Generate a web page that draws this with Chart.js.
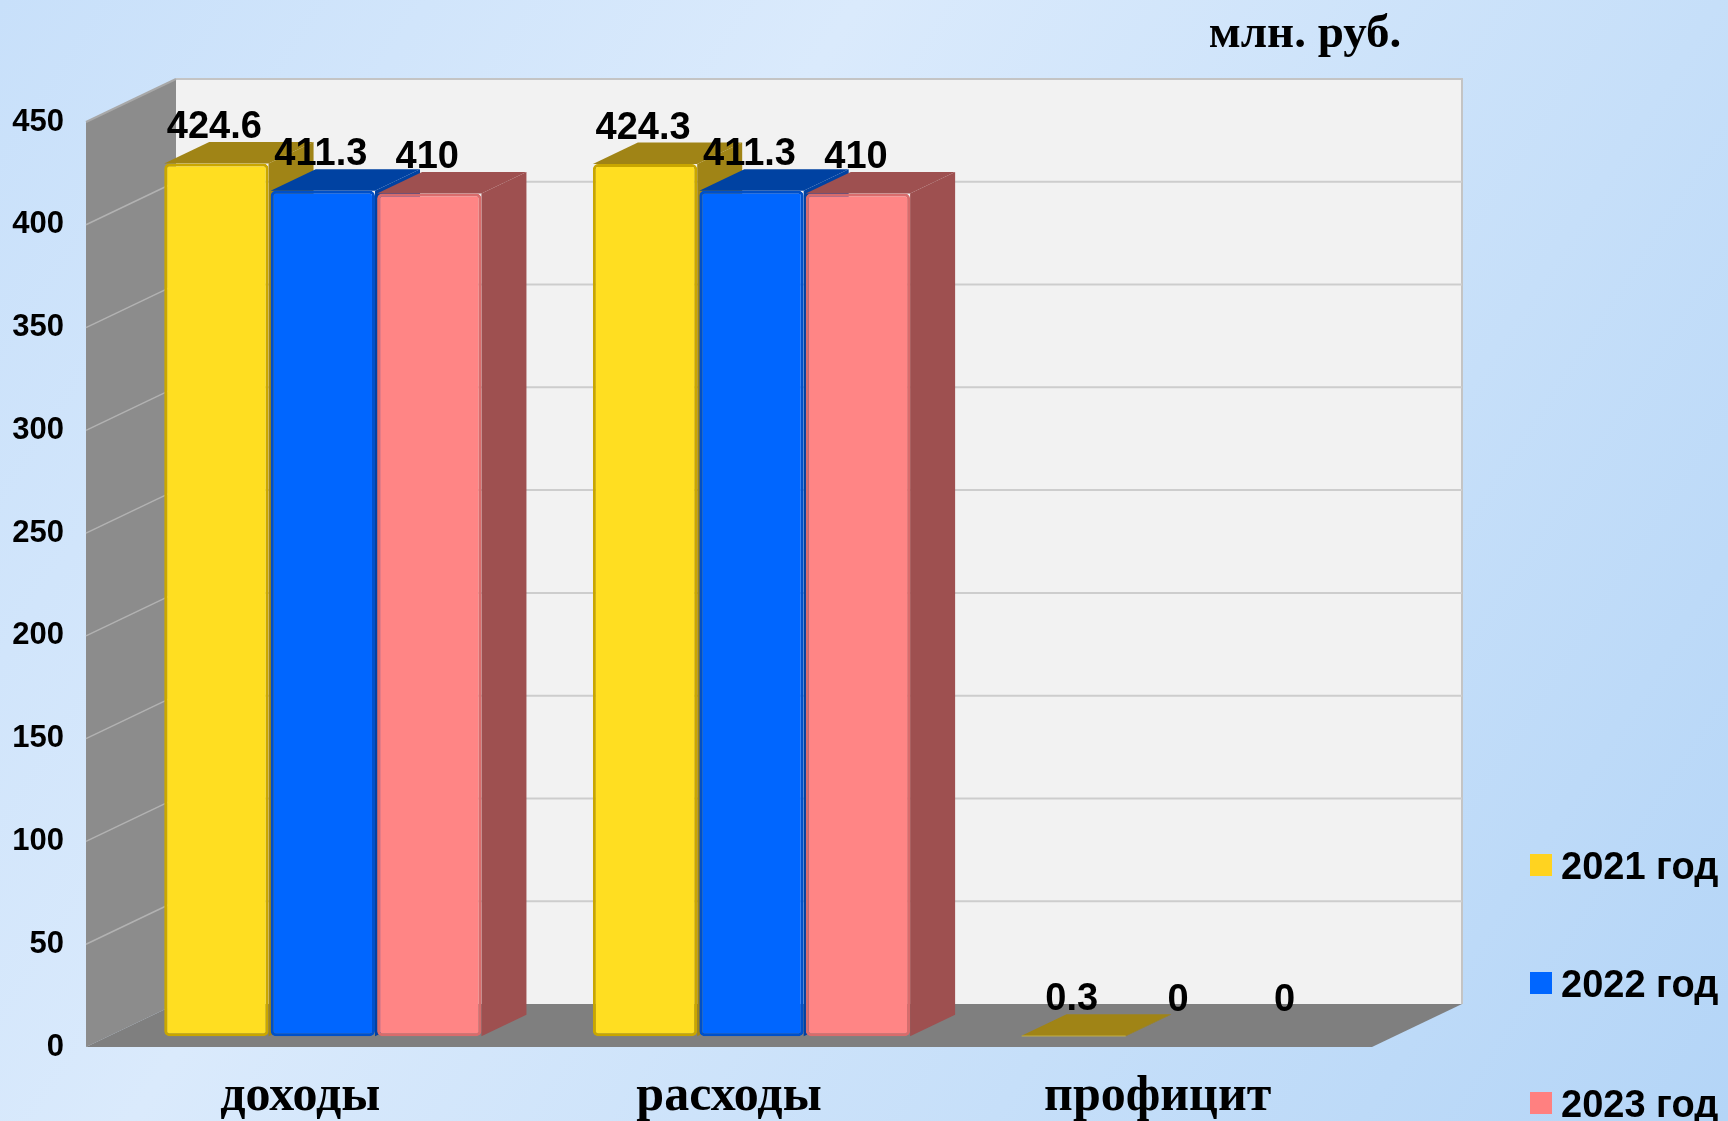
<!DOCTYPE html>
<html lang="ru">
<head>
<meta charset="utf-8">
<title>Бюджет, млн. руб.</title>
<script src="https://cdn.jsdelivr.net/npm/chart.js@4/dist/chart.umd.min.js"></script>
<style>
html, body { margin: 0; padding: 0; overflow: hidden; background: #d4e7fb; }
canvas { display: block; }
</style>
</head>
<body>
<canvas id="graph" width="1728" height="1121"></canvas>
<script>
// данные
var categories = ['доходы', 'расходы', 'профицит'];
var seriesNames = ['2021 год', '2022 год', '2023 год'];
var values2021 = [424.6, 424.3, 0.3];
var values2022 = [411.3, 411.3, 0];
var values2023 = [410, 410, 0];
var yMax = 450;
var yStep = 50;
var unitLabel = 'млн. руб.';

var frontColors = ['#FFDE21', '#0066FF', '#FF8585'];
var edgeColors  = ['#C9A600', '#0050C8', '#D86C6C'];
var darkColors  = ['#A08416', '#0042A2', '#9E5050'];
var legendColors = ['#FFD320', '#0066FF', '#FF8080'];

var SANS = '"Liberation Sans", Arial, sans-serif';
var SERIF = '"Liberation Serif", "Times New Roman", serif';

// глубина 3D: стены и столбики
var wallDX = 90, wallDY = -43;
var barDX = 45, barDY = -21.5;
var offX = wallDX / 4, offY = wallDY / 4;

function poly(ctx, pts, color) {
    ctx.beginPath();
    ctx.moveTo(pts[0][0], pts[0][1]);
    for (var i = 1; i < pts.length; i++) ctx.lineTo(pts[i][0], pts[i][1]);
    ctx.closePath();
    ctx.fillStyle = color;
    ctx.fill();
}

var bar3d = {
    id: 'bar3d',
    beforeDraw: function (chart) {
        var ctx = chart.ctx, w = chart.width, h = chart.height;
        var g = ctx.createLinearGradient(0, 0, w, h);
        g.addColorStop(0, '#C8E0FA');
        g.addColorStop(0.35, '#DAEAFC');
        g.addColorStop(0.7, '#C6DFF9');
        g.addColorStop(1, '#B4D5F7');
        ctx.save();
        ctx.fillStyle = g;
        ctx.fillRect(0, 0, w, h);
        ctx.restore();
    },
    beforeDatasetsDraw: function (chart) {
        var ctx = chart.ctx, a = chart.chartArea, ys = chart.scales.y;
        var L = a.left, R = a.right, T = a.top, B = a.bottom;
        ctx.save();
        // задняя стена
        poly(ctx, [[L + wallDX, T + wallDY], [R + wallDX, T + wallDY], [R + wallDX, B + wallDY], [L + wallDX, B + wallDY]], '#F2F2F2');
        ctx.strokeStyle = '#C4C4C4';
        ctx.lineWidth = 2;
        ctx.beginPath();
        ctx.moveTo(L + wallDX, T + wallDY);
        ctx.lineTo(R + wallDX, T + wallDY);
        ctx.lineTo(R + wallDX, B + wallDY);
        ctx.stroke();
        // боковая стена
        poly(ctx, [[L, T], [L + wallDX, T + wallDY], [L + wallDX, B + wallDY], [L, B]], '#8C8C8C');
        ctx.strokeStyle = '#A8A8A8';
        ctx.beginPath();
        ctx.moveTo(L, T);
        ctx.lineTo(L + wallDX, T + wallDY);
        ctx.stroke();
        // сетка
        ys.ticks.forEach(function (t) {
            if (t.value === 0 || t.value === yMax) return;
            var py = ys.getPixelForValue(t.value);
            ctx.lineWidth = 2;
            ctx.strokeStyle = '#CDCDCD';
            ctx.beginPath();
            ctx.moveTo(L + wallDX, py + wallDY);
            ctx.lineTo(R + wallDX, py + wallDY);
            ctx.stroke();
            ctx.lineWidth = 1.5;
            ctx.strokeStyle = '#B2B2B2';
            ctx.beginPath();
            ctx.moveTo(L, py);
            ctx.lineTo(L + wallDX, py + wallDY);
            ctx.stroke();
        });
        // пол
        poly(ctx, [[L, B], [L + wallDX, B + wallDY], [R + wallDX, B + wallDY], [R, B]], '#7F7F7F');

        // боковые и верхние грани столбиков
        ctx.translate(offX, offY);
        var n = chart.data.datasets.length;
        for (var j = 0; j < categories.length; j++) {
            for (var i = 0; i < n; i++) {
                var v = chart.data.datasets[i].data[j];
                if (!v) continue;
                var el = chart.getDatasetMeta(i).data[j];
                var p = el.getProps(['x', 'y', 'base', 'width'], true);
                var x0 = p.x - p.width / 2, x1 = p.x + p.width / 2;
                var dark = darkColors[i];
                poly(ctx, [[x1, p.y], [x1 + barDX, p.y + barDY], [x1 + barDX, p.base + barDY], [x1, p.base]], dark);
                poly(ctx, [[x0, p.y], [x0 + barDX, p.y + barDY], [x1 + barDX, p.y + barDY], [x1, p.y]], dark);
            }
        }
    },
    afterDatasetsDraw: function (chart) {
        var ctx = chart.ctx;
        ctx.restore();
        ctx.save();
        // подписи значений
        ctx.font = 'bold 38px ' + SANS;
        ctx.fillStyle = '#000';
        ctx.textAlign = 'center';
        ctx.textBaseline = 'alphabetic';
        chart.data.datasets.forEach(function (ds, i) {
            chart.getDatasetMeta(i).data.forEach(function (el, j) {
                var p = el.getProps(['x', 'y'], true);
                ctx.fillText(String(ds.data[j]), p.x + offX - 2, p.y + offY + barDY - 4);
            });
        });
        // единицы
        ctx.font = 'bold 47px ' + SERIF;
        ctx.fillText(unitLabel, 1305, 47);
        // легенда
        var legendY = [865, 983, 1103];
        ctx.font = 'bold 38px ' + SANS;
        ctx.textAlign = 'left';
        chart.data.datasets.forEach(function (ds, i) {
            ctx.fillStyle = legendColors[i];
            ctx.fillRect(1530, legendY[i] - 11, 22, 22);
            ctx.fillStyle = '#000';
            ctx.fillText(ds.label, 1561, legendY[i] + 14);
        });
        ctx.restore();
    }
};

function makeSet(i, data) {
    return {
        label: seriesNames[i],
        data: data,
        backgroundColor: frontColors[i],
        borderColor: edgeColors[i],
        borderWidth: function (c) { return c.raw < 1 ? 0 : 3; },
        borderRadius: 5,
        borderSkipped: false,
        categoryPercentage: 0.745,
        barPercentage: 0.98,
        clip: false
    };
}

var ctx = document.getElementById('graph').getContext('2d');
window.myChart = new Chart(ctx, {
    type: 'bar',
    data: {
        labels: categories,
        datasets: [makeSet(0, values2021), makeSet(1, values2022), makeSet(2, values2023)]
    },
    options: {
        responsive: false,
        animation: false,
        layout: { padding: { top: 122, right: 356, bottom: 0, left: 0 } },
        plugins: {
            legend: { display: false },
            tooltip: { enabled: false }
        },
        scales: {
            x: {
                grid: { display: false, drawTicks: false },
                border: { display: false },
                ticks: { color: '#000', padding: 20, font: { family: SERIF, size: 50, weight: 'bold' } },
                afterFit: function (s) { s.height = 74; }
            },
            y: {
                min: 0,
                max: yMax,
                grid: { display: false, drawTicks: false },
                border: { display: false },
                ticks: { stepSize: yStep, color: '#000', padding: 22, font: { family: SANS, size: 31, weight: 'bold' } },
                afterFit: function (s) { s.width = 86; }
            }
        }
    },
    plugins: [bar3d]
});
</script>
</body>
</html>
